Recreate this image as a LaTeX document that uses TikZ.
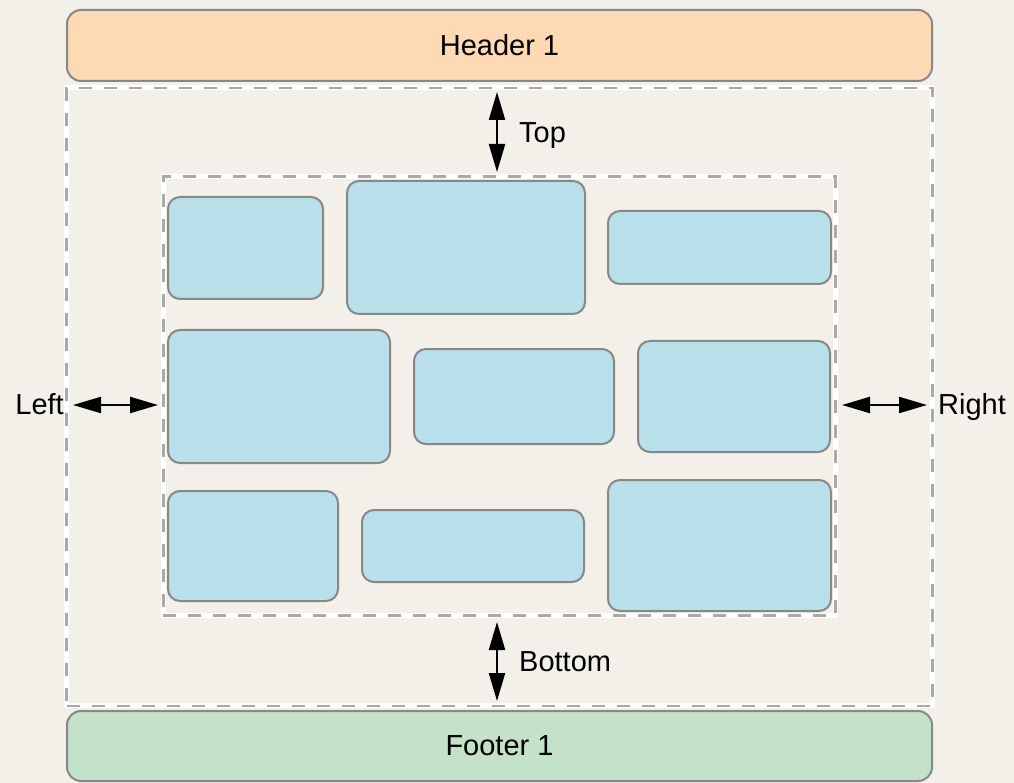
\documentclass[tikz,border=0pt]{standalone}
\usepackage{fontspec}
\setmainfont{Liberation Sans}
\usetikzlibrary{arrows.meta}
\definecolor{bgc}{HTML}{F3F0EA}
\definecolor{peach}{HTML}{FDDAB4}
\definecolor{mint}{HTML}{C4E2C7}
\definecolor{sky}{HTML}{B9DFEA}
\definecolor{edge}{HTML}{888888}
\definecolor{dashc}{HTML}{A9A9A9}
\tikzset{
  bar/.style={draw=edge, line width=2pt, rounded corners=14pt, inner sep=0pt, font=\fontsize{29}{34}\selectfont},
  bbox/.style={draw=edge, line width=2pt, fill=sky, rounded corners=12pt, inner sep=0pt},
  frame/.style={draw=none, inner sep=0pt, postaction={draw=white, line width=5pt}, postaction={draw=dashc, line width=2.6pt, dash pattern=on 13pt off 12pt}},
  dblarrow/.style={line width=2.2pt, {Triangle[length=28pt,width=16pt]}-{Triangle[length=28pt,width=16pt]}},
  lbl/.style={font=\fontsize{29}{34}\selectfont, inner sep=0pt}
}
\begin{document}
\begin{tikzpicture}[x=1pt,y=-1pt]
\fill[bgc] (0,0) rectangle (1014,783);
\useasboundingbox (0,0) rectangle (1014,783);
% frames
\node[frame, minimum width=866pt, minimum height=618pt] (outer) at (499.6,396.9) {};
\node[frame, minimum width=672pt, minimum height=439pt] (inner) at (499.2,396.2) {};
% header / footer
\node[bar, fill=peach, minimum width=865pt, minimum height=71pt] (header) at (499.5,45.5) {Header 1};
\node[bar, fill=mint, minimum width=865pt, minimum height=70pt] (footer) at (499.5,746) {Footer 1};
% blocks
\node[bbox, minimum width=155pt, minimum height=102pt] (b1) at (245.5,248) {};
\node[bbox, minimum width=238pt, minimum height=133pt] (b2) at (466,247.5) {};
\node[bbox, minimum width=223pt, minimum height=73pt] (b3) at (719.5,247.5) {};
\node[bbox, minimum width=222pt, minimum height=133pt] (b4) at (279,396.5) {};
\node[bbox, minimum width=200pt, minimum height=95pt] (b5) at (514,396.5) {};
\node[bbox, minimum width=192pt, minimum height=111pt] (b6) at (734,396.5) {};
\node[bbox, minimum width=170pt, minimum height=110pt] (b7) at (253,546) {};
\node[bbox, minimum width=222pt, minimum height=72pt] (b8) at (473,546) {};
\node[bbox, minimum width=223pt, minimum height=131pt] (b9) at (719.5,545.5) {};
% arrow ends
\coordinate (t1) at (497,92);
\coordinate (t2) at (497,172);
\coordinate (u1) at (497,622);
\coordinate (u2) at (497,701);
\coordinate (l1) at (73,405);
\coordinate (l2) at (158,405);
\coordinate (r1) at (842,405);
\coordinate (r2) at (927,405);
\draw[dblarrow] (t1) -- (t2);
\draw[dblarrow] (u1) -- (u2);
\draw[dblarrow] (l1) -- (l2);
\draw[dblarrow] (r1) -- (r2);
% labels
\node[lbl, anchor=base west] (ltop) at (519,142.7) {Top};
\node[lbl, anchor=base west] (lbottom) at (519,671.7) {Bottom};
\node[lbl, anchor=base east] (lleft) at (64,414.5) {Left};
\node[lbl, anchor=base west] (lright) at (938,414.5) {Right};
\end{tikzpicture}
\end{document}
